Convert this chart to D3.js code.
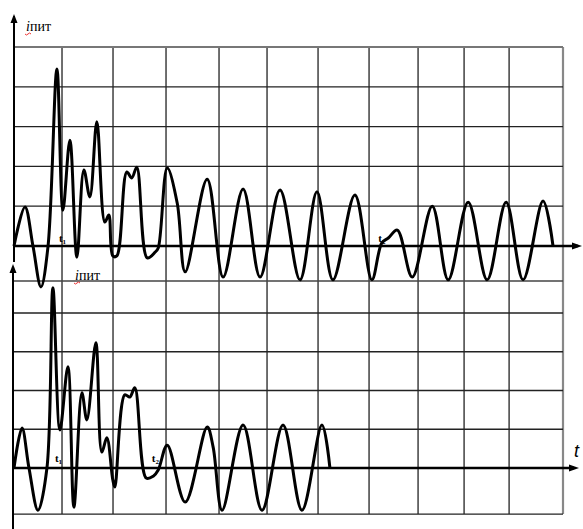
<!DOCTYPE html>
<html><head><meta charset="utf-8">
<script src="https://cdn.jsdelivr.net/npm/d3@7"></script>
<style>html,body{margin:0;padding:0;background:#fff}svg{display:block}</style>
</head><body><svg id="c" width="583" height="529"></svg>
<script>
// time in grid divisions
const gridTimes = [0.962, 1.984, 3.046, 4.108, 5.07, 6.092, 7.114, 8.096, 9.018, 9.92, 11];
const gridTopValues = [1, 2, 3, 4, 5];
const gridSharedValue = -0.88;
const gridBotValues = [1, 2, 3, 4];
const gridBotBottom = -1.19;

const topTime = [0,0.22,0.38,0.54,0.68,0.86,0.98,1.12,1.26,1.40,1.52,1.66,1.82,1.90,1.98,2.06,2.26,2.36,2.46,2.67,2.83,2.89,3.07,3.27,3.43,3.87,4.19,4.59,4.93,5.33,5.73,6.07,6.39,6.83,7.17,7.37,7.50,7.68,7.98,8.38,8.70,9.10,9.48,9.86,10.2,10.6,10.8];
const topCurrent = [0,0.98,0,-1.03,-0.03,4.45,0.90,2.66,-0.28,1.91,1.23,3.12,0.60,0.78,-0.25,-0.25,1.86,1.71,1.98,-0.30,-0.15,-0.05,1.96,1.08,-0.65,1.68,-0.78,1.43,-0.78,1.41,-0.85,1.36,-0.85,1.28,-0.85,0.08,0.2,0.40,-0.78,1.0,-0.85,1.1,-0.85,1.1,-0.85,1.13,0];

const botTime = [0,0.16,0.30,0.48,0.66,0.78,0.92,1.08,1.20,1.36,1.46,1.64,1.76,1.86,1.98,2.02,2.22,2.32,2.42,2.65,2.79,2.89,3.07,3.43,3.87,3.99,4.17,4.59,4.97,5.39,5.77,6.17,6.33];
const botCurrent = [0,1.03,0,-1.09,0,4.65,0.98,2.61,-1.01,1.94,1.24,3.23,0.41,0.78,-0.31,-0.49,1.89,1.83,2.07,-0.26,-0.21,-0.05,0.59,-0.88,1.06,0.54,-1.09,1.11,-1.09,1.11,-1.09,1.11,0];

const markTop = [{t:0.86, label:"t", sub:"1"}, {t:7.26, label:"t", sub:"2"}];
const markBot = [{t:0.78, label:"t", sub:"1"}, {t:2.72, label:"t", sub:"2"}];

const svg = d3.select("#c");
const x = d3.scaleLinear().domain([0, 11]).range([14, 563]);
const yT = d3.scaleLinear().domain([0, 5]).range([246, 47]);
const yB = d3.scaleLinear().domain([0, 4]).range([468, 313]);

const g = svg.append("g");
// vertical grid
g.selectAll("line.v").data(gridTimes).join("line")
  .attr("x1", d => x(d)).attr("x2", d => x(d))
  .attr("y1", yT(5)).attr("y2", yB(gridBotBottom))
  .attr("stroke", d => d === 11 ? "#888" : "#222").attr("stroke-width", d => d === 11 ? 2.2 : 1.3);
// horizontal grid
g.selectAll("line.ht").data(gridTopValues).join("line")
  .attr("x1", x(0)).attr("x2", x(11))
  .attr("y1", d => yT(d)).attr("y2", d => yT(d))
  .attr("stroke", d => d === 5 ? "#777" : "#222").attr("stroke-width", d => d === 5 ? 2 : 1.3);
g.append("line").attr("x1", x(0)).attr("x2", x(11))
  .attr("y1", yT(gridSharedValue)).attr("y2", yT(gridSharedValue))
  .attr("stroke", "#444").attr("stroke-width", 1.3);
const gb = svg.append("g");
gb.selectAll("line").data(gridBotValues.concat([gridBotBottom])).join("line")
  .attr("x1", x(0)).attr("x2", x(11))
  .attr("y1", d => yB(d)).attr("y2", d => yB(d))
  .attr("stroke", "#222").attr("stroke-width", 1.3);

// axes
function arrowUp(xp, yp) {
  svg.append("path").attr("d", `M${xp},${yp} L${xp-3.5},${yp+9} L${xp+3.5},${yp+9} Z`).attr("fill", "#000");
}
function arrowRight(xp, yp) {
  svg.append("path").attr("d", `M${xp},${yp} L${xp-10},${yp-3.5} L${xp-10},${yp+3.5} Z`).attr("fill", "#000");
}
svg.append("line").attr("x1", 14).attr("x2", 14).attr("y1", 16).attr("y2", 262).attr("stroke", "#000").attr("stroke-width", 2);
arrowUp(14, 14);
svg.append("line").attr("x1", 13).attr("x2", 13).attr("y1", 268).attr("y2", 529).attr("stroke", "#000").attr("stroke-width", 2);
arrowUp(13, 264);
svg.append("line").attr("x1", x(0)).attr("x2", 578).attr("y1", yT(0)).attr("y2", yT(0)).attr("stroke", "#000").attr("stroke-width", 2.4);
arrowRight(582, yT(0));
svg.append("line").attr("x1", x(0)).attr("x2", 574).attr("y1", yB(0)).attr("y2", yB(0)).attr("stroke", "#000").attr("stroke-width", 2.4);
arrowRight(579, yB(0));

// waveforms
const lineTop = d3.line().x(d => x(d[0])).y(d => yT(d[1])).curve(d3.curveCatmullRom.alpha(0.5));
const lineBot = d3.line().x(d => x(d[0])).y(d => yB(d[1])).curve(d3.curveCatmullRom.alpha(0.5));
svg.append("path").attr("d", lineTop(topTime.map((t, i) => [t, topCurrent[i]])))
  .attr("fill", "none").attr("stroke", "#000").attr("stroke-width", 3).attr("stroke-linejoin", "round");
svg.append("path").attr("d", lineBot(botTime.map((t, i) => [t, botCurrent[i]])))
  .attr("fill", "none").attr("stroke", "#000").attr("stroke-width", 3).attr("stroke-linejoin", "round");

// labels
function yLabel(xp, yp) {
  const t = svg.append("text").attr("x", xp).attr("y", yp)
    .attr("font-family", "Liberation Serif, serif").attr("font-size", 14).attr("fill", "#000");
  t.append("tspan").attr("font-style", "italic").text("i");
  t.append("tspan").text("пит");
  svg.append("path").attr("d", `M${xp-1},${yp+3} q1.5,2 3,0 q1.5,-2 3,0`).attr("fill", "none").attr("stroke", "#e33").attr("stroke-width", 1);
}
yLabel(26, 31);
yLabel(75, 280);
function tMarks(arr, yScale, dy) {
  arr.forEach(m => {
    const t = svg.append("text").attr("x", x(m.t) + 2).attr("y", yScale(0) - dy)
      .attr("font-family", "Liberation Serif, serif").attr("font-size", 11).attr("font-weight", "bold").attr("fill", "#000");
    t.append("tspan").text(m.label);
    t.append("tspan").attr("font-size", 7).attr("dy", 1.5).text(m.sub);
  });
}
tMarks(markTop, yT, 4);
tMarks(markBot, yB, 6);
svg.append("text").attr("x", 574).attr("y", 457).attr("font-family", "Liberation Sans, sans-serif")
  .attr("font-style", "italic").attr("font-size", 18).attr("fill", "#000").text("t");
</script></body></html>
